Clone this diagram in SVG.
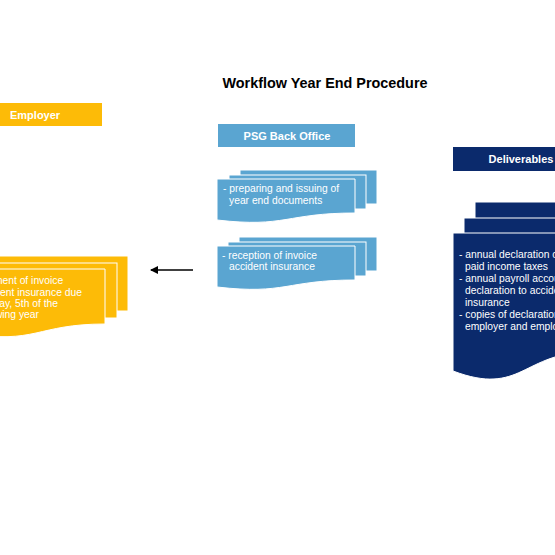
<svg xmlns="http://www.w3.org/2000/svg" width="555" height="555" viewBox="0 0 555 555">
<style>
.title{font-family:"Liberation Sans",Arial,sans-serif;font-weight:bold;font-size:14.4px;fill:#000;text-anchor:middle}
.hdr{font-family:"Liberation Sans",Arial,sans-serif;font-weight:bold;font-size:11px;fill:#fff}
.txt{font-family:"Liberation Sans",Arial,sans-serif;font-size:10.3px;fill:#fff}
.y{fill:#FDBB07}
.b{fill:#5AA5D1}
.n{fill:#0B2A6C}
.card{stroke:#fff;stroke-width:1}
</style>
<defs>
<marker id="ah" markerWidth="8" markerHeight="8" refX="7" refY="4" orient="auto" markerUnits="userSpaceOnUse">
<path d="M0,0 L8,4 L0,8 Z" fill="#000"/>
</marker>
</defs>
<rect width="555" height="555" fill="#fff"/>
<text class="title" x="325" y="88">Workflow Year End Procedure</text>

<g id="employer-header">
<rect class="y" x="-34" y="103" width="136" height="23"/>
<text class="hdr" x="10" y="119">Employer</text>
</g>

<g id="psg-header">
<rect class="b" x="218" y="124" width="137" height="23"/>
<text class="hdr" x="287" y="140" text-anchor="middle">PSG Back Office</text>
</g>

<g id="deliverables-header">
<rect class="n" x="453" y="147" width="136" height="24"/>
<text class="hdr" x="521" y="163" text-anchor="middle">Deliverables</text>
</g>

<g id="employer-stack">
<rect class="y card" x="-11" y="256" width="139" height="55"/>
<rect class="y card" x="-22" y="263" width="139" height="55"/>
<path class="y card" d="M-33,269 H105 V324 C36,324 36,345 -33,333 Z"/>
<text class="txt" x="-29" y="284">- payment of invoice</text>
<text class="txt" x="-24" y="296">accident insurance due</text>
<text class="txt" x="-26.5" y="307">Monday, 5th of the</text>
<text class="txt" x="-24" y="318">following year</text>
</g>

<g id="psg-stack-1">
<rect class="b card" x="240" y="170" width="137" height="34"/>
<rect class="b card" x="229" y="175" width="137" height="34"/>
<path class="b card" d="M217,179 H355 V213 C286,213 286,228 217,220 Z"/>
<text class="txt" x="223" y="192">- preparing and issuing of</text>
<text class="txt" x="229" y="203.5">year end documents</text>
</g>

<g id="psg-stack-2">
<rect class="b card" x="239" y="237" width="138" height="34"/>
<rect class="b card" x="228" y="242" width="138" height="34"/>
<path class="b card" d="M217,246 H355 V280 C286,280 286,295 217,287 Z"/>
<text class="txt" x="222" y="258.5">- reception of invoice</text>
<text class="txt" x="229" y="270">accident insurance</text>
</g>

<g id="deliverables-stack">
<rect class="n card" x="475" y="202" width="138" height="130"/>
<rect class="n card" x="464" y="218" width="138" height="130"/>
<path class="n card" d="M453,233 H591 V352 C522,352 522,397 453,371 Z"/>
<text class="txt" x="459" y="258">- annual declaration of</text>
<text class="txt" x="465" y="270">paid income taxes</text>
<text class="txt" x="459" y="282">- annual payroll account</text>
<text class="txt" x="465" y="294">declaration to accident</text>
<text class="txt" x="465" y="306">insurance</text>
<text class="txt" x="459" y="318">- copies of declarations</text>
<text class="txt" x="465" y="330">employer and employees</text>
</g>

<g id="connectors">
<line x1="193" y1="270" x2="151" y2="270" stroke="#000" stroke-width="1.5" marker-end="url(#ah)"/>
</g>
</svg>
